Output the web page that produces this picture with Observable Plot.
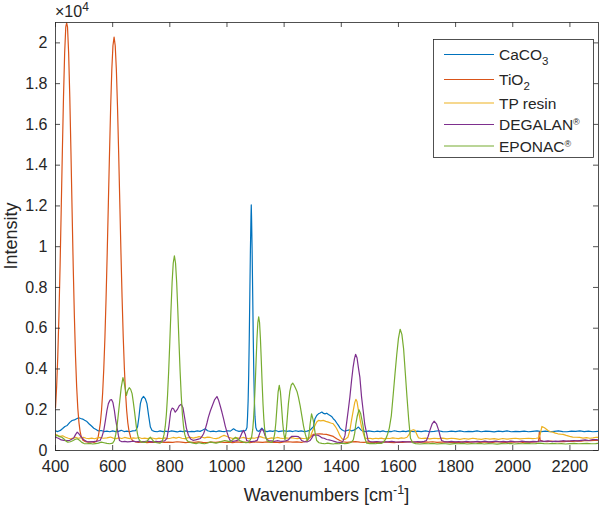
<!DOCTYPE html>
<html><head><meta charset="utf-8">
<script src="https://cdn.jsdelivr.net/npm/d3@7"></script>
<script src="https://cdn.jsdelivr.net/npm/@observablehq/plot@0.6"></script>
<style>body{margin:0;background:#fff;} svg{display:block;}</style>
</head><body><div id="chart"></div>
<script>
const seriesNames = ["CaCO3", "TiO2", "TP resin", "DEGALAN", "EPONAC"];
const seriesColors = ["#0072BD", "#D95319", "#EDB120", "#7E2F8E", "#77AC30"];
const xTicks = [400, 600, 800, 1000, 1200, 1400, 1600, 1800, 2000, 2200];
const xTickLabels = ["400", "600", "800", "1000", "1200", "1400", "1600", "1800", "2000", "2200"];
const yTicks = [0, 2000, 4000, 6000, 8000, 10000, 12000, 14000, 16000, 18000, 20000];
const yTickLabels = ["0", "0.2", "0.4", "0.6", "0.8", "1", "1.2", "1.4", "1.6", "1.8", "2"];

const caco3 = [[400,960],[408,930],[417,985],[425,1080],[433,1180],[441,1230],[450,1380],[458,1470],[466,1500],[474,1560],[481,1610],[488,1570],[495,1540],[502,1480],[510,1420],[518,1300],[526,1200],[534,1090],[542,1030],[550,960],[560,980],[570,930],[580,950],[590,920],[600,960],[610,930],[620,940],[630,990],[640,930],[650,950],[660,920],[670,960],[680,970],[687,1150],[692,1650],[697,2300],[702,2550],[708,2650],[714,2550],[720,2300],[726,1700],[732,1150],[738,980],[746,940],[756,920],[766,960],[776,930],[786,950],[796,920],[806,960],[816,940],[826,910],[836,950],[846,930],[856,960],[866,920],[876,940],[886,930],[896,960],[906,940],[914,990],[924,1065],[932,970],[942,930],[952,950],[962,920],[972,960],[982,940],[992,930],[1002,970],[1012,950],[1023,1065],[1032,980],[1042,940],[1052,960],[1060,950],[1066,990],[1070,1130],[1072,1660],[1074,2430],[1076,3700],[1078,5500],[1080,7680],[1082,9830],[1084,11450],[1085,12050],[1086,11450],[1088,9830],[1090,7680],[1092,5500],[1094,3700],[1096,2430],[1098,1660],[1101,1130],[1105,975],[1112,940],[1122,1100],[1130,960],[1140,930],[1150,960],[1160,940],[1170,980],[1180,930],[1190,950],[1200,970],[1210,940],[1220,960],[1230,930],[1240,970],[1250,940],[1260,960],[1270,930],[1280,950],[1290,990],[1296,1080],[1302,1150],[1308,1560],[1314,1720],[1320,1800],[1326,1840],[1332,1885],[1338,1820],[1343,1800],[1349,1830],[1355,1770],[1361,1720],[1366,1670],[1372,1560],[1378,1475],[1384,1350],[1390,1230],[1396,1100],[1402,1015],[1408,970],[1413,950],[1420,980],[1428,1010],[1436,960],[1444,1000],[1452,1060],[1460,1150],[1468,1020],[1476,950],[1486,930],[1496,960],[1506,940],[1516,920],[1526,950],[1536,930],[1546,960],[1556,920],[1566,940],[1576,930],[1586,970],[1596,940],[1606,920],[1616,950],[1626,930],[1636,960],[1646,940],[1656,920],[1666,950],[1680,930],[1695,960],[1710,920],[1725,940],[1740,970],[1755,930],[1770,920],[1785,950],[1800,930],[1815,960],[1830,920],[1845,940],[1860,930],[1875,960],[1890,920],[1905,950],[1920,940],[1935,910],[1950,950],[1965,930],[1980,960],[1995,920],[2010,940],[2025,930],[2040,950],[2055,920],[2070,940],[2085,960],[2100,930],[2115,950],[2130,920],[2145,940],[2160,960],[2175,930],[2190,920],[2205,950],[2220,940],[2235,960],[2250,930],[2265,950],[2280,920],[2300,940]];

const tio2 = [[400,2100],[404,3140],[408,4630],[412,6610],[416,9030],[420,11810],[424,14680],[428,17350],[432,19490],[436,20790],[439,20980],[442,20790],[446,19490],[450,17350],[454,14680],[458,11810],[462,9030],[466,6610],[470,4630],[474,3140],[478,2080],[482,1380],[486,940],[490,680],[496,500],[505,430],[515,410],[525,430],[535,400],[543,440],[549,640],[553,970],[557,1360],[561,1960],[565,2830],[569,4020],[573,5570],[577,7490],[581,9720],[585,12150],[589,14600],[593,16840],[597,18670],[601,19860],[605,20280],[609,19860],[613,18670],[617,16840],[621,14600],[625,12150],[629,9720],[633,7490],[637,5570],[641,4020],[645,2830],[649,1960],[653,1360],[657,970],[663,640],[670,480],[680,420],[690,400],[705,420],[720,390],[735,410],[750,400],[765,420],[780,395],[795,410],[810,400],[825,430],[840,410],[855,390],[870,410],[885,400],[900,420],[915,400],[930,390],[945,410],[960,400],[975,420],[990,400],[1005,410],[1020,390],[1035,420],[1050,400],[1065,410],[1080,390],[1095,420],[1110,410],[1125,400],[1140,420],[1155,400],[1170,410],[1185,390],[1200,420],[1215,430],[1230,410],[1245,420],[1260,400],[1272,430],[1280,480],[1290,640],[1302,790],[1313,810],[1325,820],[1336,800],[1348,790],[1360,740],[1372,690],[1384,580],[1395,490],[1405,430],[1420,400],[1435,420],[1450,440],[1465,410],[1480,400],[1495,420],[1510,390],[1525,410],[1540,400],[1555,420],[1570,400],[1585,390],[1600,410],[1615,400],[1630,420],[1645,430],[1660,410],[1675,400],[1690,420],[1705,410],[1720,430],[1735,400],[1750,410],[1765,420],[1780,400],[1795,410],[1810,390],[1825,420],[1840,400],[1855,410],[1870,430],[1885,400],[1900,420],[1915,410],[1930,400],[1945,430],[1960,410],[1975,400],[1990,420],[2005,410],[2020,430],[2035,400],[2050,420],[2065,410],[2080,420],[2090,430],[2093,900],[2096,500],[2105,450],[2120,440],[2135,460],[2150,430],[2165,450],[2180,440],[2195,460],[2210,450],[2225,470],[2240,460],[2255,490],[2270,480],[2285,500],[2300,490]];

const tpResin = [[400,790],[410,720],[417,690],[425,720],[435,650],[445,600],[452,575],[462,610],[472,640],[480,600],[487,620],[497,650],[507,600],[517,580],[527,610],[537,575],[547,620],[557,640],[567,600],[580,620],[592,660],[602,610],[612,580],[622,620],[632,590],[642,640],[652,610],[662,580],[672,620],[682,600],[692,640],[702,590],[712,610],[722,580],[732,620],[742,600],[752,570],[762,610],[772,590],[782,620],[792,580],[802,600],[812,640],[822,610],[832,650],[842,600],[852,580],[862,620],[872,650],[882,610],[892,640],[902,680],[912,650],[922,620],[932,660],[942,640],[952,600],[962,580],[972,620],[982,700],[990,740],[998,700],[1006,650],[1016,610],[1026,580],[1036,620],[1046,600],[1056,640],[1066,610],[1076,580],[1086,620],[1096,600],[1106,640],[1116,680],[1126,630],[1136,600],[1146,580],[1156,620],[1166,600],[1176,640],[1186,610],[1196,590],[1206,620],[1216,600],[1226,630],[1236,600],[1246,580],[1256,610],[1266,590],[1276,600],[1284,620],[1291,650],[1300,980],[1308,1230],[1314,1400],[1320,1475],[1328,1450],[1337,1475],[1346,1430],[1355,1390],[1363,1350],[1372,1310],[1378,1200],[1384,1065],[1390,900],[1395,740],[1401,600],[1407,525],[1415,560],[1423,650],[1430,980],[1436,1500],[1442,1970],[1447,2350],[1451,2510],[1455,2400],[1460,1970],[1466,1500],[1471,1150],[1477,850],[1482,620],[1490,580],[1500,600],[1510,570],[1520,600],[1530,580],[1540,610],[1550,570],[1560,600],[1570,590],[1580,620],[1590,600],[1600,580],[1610,620],[1620,600],[1630,650],[1638,800],[1645,980],[1652,1020],[1658,990],[1664,800],[1670,620],[1680,590],[1695,610],[1710,570],[1725,600],[1740,580],[1755,610],[1770,570],[1785,600],[1800,580],[1815,550],[1830,590],[1845,560],[1860,600],[1875,570],[1890,550],[1905,590],[1920,560],[1935,580],[1950,550],[1965,590],[1980,560],[1995,580],[2010,600],[2025,570],[2040,590],[2055,600],[2070,580],[2082,600],[2090,620],[2096,790],[2102,1180],[2111,1115],[2123,985],[2132,920],[2140,900],[2149,850],[2158,820],[2167,800],[2176,790],[2187,740],[2199,690],[2210,660],[2222,650],[2234,640],[2246,610],[2258,630],[2270,600],[2281,620],[2292,650],[2300,640]];

const degalan = [[400,650],[410,600],[420,520],[430,500],[440,480],[450,500],[458,560],[464,620],[470,780],[476,900],[482,820],[488,700],[493,620],[500,520],[511,430],[522,420],[533,440],[545,460],[556,490],[563,700],[569,985],[575,1500],[580,1970],[585,2300],[591,2480],[596,2500],[601,2350],[606,1970],[610,1550],[615,1150],[620,750],[624,490],[632,430],[642,450],[652,420],[662,440],[672,460],[682,430],[692,450],[702,420],[712,440],[722,460],[732,440],[742,420],[752,450],[762,430],[772,460],[782,470],[790,600],[797,1200],[803,1900],[808,2080],[813,2050],[819,1880],[826,2000],[833,2200],[840,2270],[846,2100],[852,1600],[858,1100],[865,750],[873,560],[881,500],[890,520],[900,560],[907,590],[913,700],[918,820],[924,1050],[930,1350],[935,1640],[942,1950],[949,2210],[957,2500],[965,2650],[971,2450],[976,2210],[982,1900],[988,1560],[994,1200],[1000,900],[1005,680],[1011,490],[1020,450],[1030,470],[1040,520],[1046,650],[1052,850],[1058,985],[1064,800],[1069,490],[1078,450],[1088,440],[1098,460],[1106,500],[1111,700],[1116,900],[1122,1065],[1128,950],[1133,740],[1139,560],[1145,490],[1155,470],[1165,450],[1175,480],[1185,460],[1195,450],[1205,470],[1215,520],[1222,640],[1226,690],[1234,700],[1242,690],[1250,680],[1256,600],[1261,490],[1270,440],[1280,420],[1291,490],[1297,620],[1302,740],[1310,760],[1320,740],[1326,690],[1332,620],[1340,600],[1349,540],[1357,520],[1366,490],[1375,450],[1384,410],[1394,400],[1402,390],[1407,490],[1413,740],[1420,1500],[1425,2050],[1430,2620],[1436,3440],[1441,4050],[1446,4500],[1450,4720],[1455,4550],[1460,4050],[1465,3600],[1471,2620],[1477,1900],[1482,1300],[1489,820],[1494,490],[1502,430],[1512,420],[1525,440],[1538,410],[1550,430],[1563,420],[1576,450],[1589,420],[1602,410],[1615,440],[1628,420],[1641,430],[1654,410],[1667,440],[1680,420],[1690,450],[1698,490],[1704,700],[1710,985],[1718,1310],[1725,1440],[1733,1310],[1741,985],[1746,700],[1751,490],[1760,440],[1772,420],[1785,450],[1798,420],[1811,440],[1824,410],[1837,450],[1850,430],[1863,420],[1876,450],[1889,430],[1902,460],[1915,420],[1928,440],[1941,460],[1954,430],[1967,450],[1980,420],[1993,460],[2006,440],[2019,430],[2032,460],[2045,440],[2058,420],[2071,450],[2084,440],[2097,470],[2110,450],[2123,470],[2136,440],[2149,460],[2162,450],[2175,480],[2188,460],[2201,470],[2214,490],[2227,470],[2240,500],[2253,520],[2266,490],[2279,530],[2292,540],[2300,520]];

const eponac = [[400,700],[407,740],[414,680],[422,650],[430,560],[437,460],[443,410],[452,430],[460,480],[468,540],[476,575],[484,500],[492,400],[500,340],[510,330],[520,350],[530,320],[540,340],[550,360],[560,410],[570,380],[580,350],[590,330],[600,360],[606,490],[611,800],[615,1150],[620,1800],[625,2460],[630,3100],[636,3580],[640,3350],[643,3110],[648,2700],[653,2950],[658,3080],[663,3000],[668,2790],[672,2400],[676,1970],[680,1500],[683,1150],[687,800],[691,575],[697,450],[703,410],[712,400],[720,450],[726,560],[732,650],[738,540],[745,420],[755,380],[765,360],[772,420],[776,560],[780,800],[784,1180],[788,1780],[792,2690],[796,3890],[800,5340],[804,6870],[808,8240],[812,9200],[816,9550],[820,9200],[824,8240],[828,6870],[832,5340],[836,3890],[840,2690],[844,1780],[848,1180],[852,800],[858,530],[864,440],[872,400],[882,360],[892,340],[902,380],[912,350],[922,330],[932,370],[942,420],[952,390],[962,360],[972,400],[982,450],[992,490],[1002,460],[1012,420],[1022,560],[1030,650],[1038,560],[1046,470],[1056,420],[1066,380],[1076,400],[1086,640],[1090,1020],[1093,1540],[1096,2310],[1099,3310],[1102,4440],[1105,5510],[1108,6280],[1111,6560],[1114,6280],[1117,5510],[1120,4440],[1123,3310],[1126,2310],[1129,1540],[1132,1020],[1136,640],[1141,460],[1150,420],[1158,400],[1163,540],[1167,810],[1171,1360],[1175,2140],[1179,2880],[1183,3200],[1187,2880],[1191,2140],[1195,1360],[1199,810],[1203,520],[1207,900],[1211,1600],[1215,2300],[1220,2900],[1225,3220],[1230,3310],[1235,3200],[1240,3050],[1245,2900],[1250,2620],[1256,2200],[1262,1700],[1268,1200],[1274,800],[1281,480],[1286,650],[1291,1310],[1296,1800],[1302,1475],[1308,900],[1314,490],[1322,380],[1332,350],[1342,330],[1352,360],[1362,340],[1372,320],[1382,350],[1392,330],[1402,360],[1412,340],[1422,350],[1430,380],[1436,420],[1442,520],[1447,850],[1451,1310],[1456,1700],[1462,2000],[1468,1800],[1475,1310],[1480,850],[1483,575],[1489,360],[1500,340],[1510,350],[1520,330],[1530,360],[1540,350],[1545,380],[1555,550],[1562,800],[1568,1100],[1575,1700],[1582,2800],[1588,3770],[1594,4700],[1600,5500],[1606,5950],[1612,5700],[1618,5000],[1624,3800],[1630,2600],[1636,1500],[1642,600],[1650,380],[1660,340],[1675,320],[1690,340],[1705,330],[1720,350],[1735,320],[1750,340],[1765,330],[1780,310],[1795,340],[1810,330],[1825,350],[1840,320],[1855,340],[1870,330],[1885,350],[1900,320],[1915,340],[1930,330],[1945,310],[1960,340],[1975,330],[1990,350],[2005,320],[2020,340],[2035,330],[2050,350],[2065,330],[2080,340],[2095,360],[2110,340],[2125,330],[2140,350],[2155,330],[2170,340],[2185,320],[2200,340],[2215,350],[2230,330],[2245,340],[2260,350],[2275,330],[2290,340],[2300,350]];

const seriesData = [caco3, tio2, tpResin, degalan, eponac];
const rows = seriesData.flatMap((arr, k) => arr.map(([x, y]) => ({series: seriesNames[k], x, y})));

const W = 600, H = 507;
const M = {top: 22, right: 2, bottom: 57, left: 55};
const plotW = W - M.left - M.right, plotH = H - M.top - M.bottom;
const tickLen = 5;
const ink = "#262626";
const font = "'Liberation Sans', Arial, Helvetica, sans-serif";

const chart = Plot.plot({
  width: W, height: H,
  marginTop: M.top, marginRight: M.right, marginBottom: M.bottom, marginLeft: M.left,
  style: {fontFamily: font, color: ink, background: "#fff"},
  x: {domain: [400, 2300]},
  y: {domain: [0, 21000]},
  color: {domain: seriesNames, range: seriesColors},
  marks: [
    Plot.line(rows, {x: "x", y: "y", z: "series", stroke: "series", strokeWidth: 1.2, clip: true}),
    Plot.ruleX(xTicks, {x: d => d, insetTop: plotH - tickLen, stroke: ink, strokeWidth: 0.8}),
    Plot.ruleX(xTicks, {x: d => d, insetBottom: plotH - tickLen, stroke: ink, strokeWidth: 0.8}),
    Plot.ruleY(yTicks, {y: d => d, insetRight: plotW - tickLen, stroke: ink, strokeWidth: 0.8}),
    Plot.ruleY(yTicks, {y: d => d, insetLeft: plotW - tickLen, stroke: ink, strokeWidth: 0.8}),
    Plot.frame({stroke: ink, strokeWidth: 0.8}),
    Plot.axisX({anchor: "bottom", ticks: xTicks, tickSize: 0, tickPadding: 10, label: null, fontSize: 16.5,
      tickFormat: d => xTickLabels[xTicks.indexOf(d)]}),
    Plot.axisY({anchor: "left", ticks: yTicks, tickSize: 0, tickPadding: 8, label: null, fontSize: 16,
      tickFormat: d => yTickLabels[yTicks.indexOf(d)]})
  ]
});
document.getElementById("chart").appendChild(chart);

const svg = d3.select(chart);
const g = svg.append("g").attr("font-family", font).attr("fill", ink).attr("text-anchor", "start");

// exponent label
const ex = g.append("text").attr("x", 55).attr("y", 17).attr("font-size", 16);
ex.append("tspan").text("×10");
ex.append("tspan").attr("dy", -6).attr("font-size", 12).text("4");

// y label
g.append("text").attr("transform", "translate(17,236) rotate(-90)").attr("text-anchor", "middle")
  .attr("font-size", 18).text("Intensity");

// x label
const xl = g.append("text").attr("x", M.left + plotW / 2).attr("y", 501).attr("text-anchor", "middle").attr("font-size", 18);
xl.append("tspan").text("Wavenumbers [cm");
xl.append("tspan").attr("dy", -7).attr("font-size", 12.5).text("-1");
xl.append("tspan").attr("dy", 7).text("]");

// legend
const legendRowsY = [54.5, 79.5, 103, 124.5, 146];
const legendParts = [
  [["CaCO", 0], ["3", 1]],
  [["TiO", 0], ["2", 1]],
  [["TP resin", 0]],
  [["DEGALAN", 0], ["®", -1]],
  [["EPONAC", 0], ["®", -1]]
];
const lg = g.append("g");
lg.append("rect").attr("x", 433.5).attr("y", 39.5).attr("width", 160).attr("height", 118)
  .attr("fill", "#fff").attr("stroke", ink).attr("stroke-width", 0.8);
legendRowsY.forEach((yy, i) => {
  lg.append("line").attr("x1", 444).attr("x2", 494).attr("y1", yy).attr("y2", yy)
    .attr("stroke", seriesColors[i]).attr("stroke-width", 1.2);
  const t = lg.append("text").attr("x", 499).attr("y", yy + 5.5).attr("font-size", 15.5);
  let shift = 0;
  legendParts[i].forEach(([s, kind]) => {
    const sp = t.append("tspan").text(s);
    const target = kind === 1 ? 5 : kind === -1 ? -5 : 0;
    if (target !== shift) { sp.attr("dy", target - shift); shift = target; }
    if (kind !== 0) sp.attr("font-size", kind === 1 ? 11.5 : 9);
  });
});
</script>
</body></html>
